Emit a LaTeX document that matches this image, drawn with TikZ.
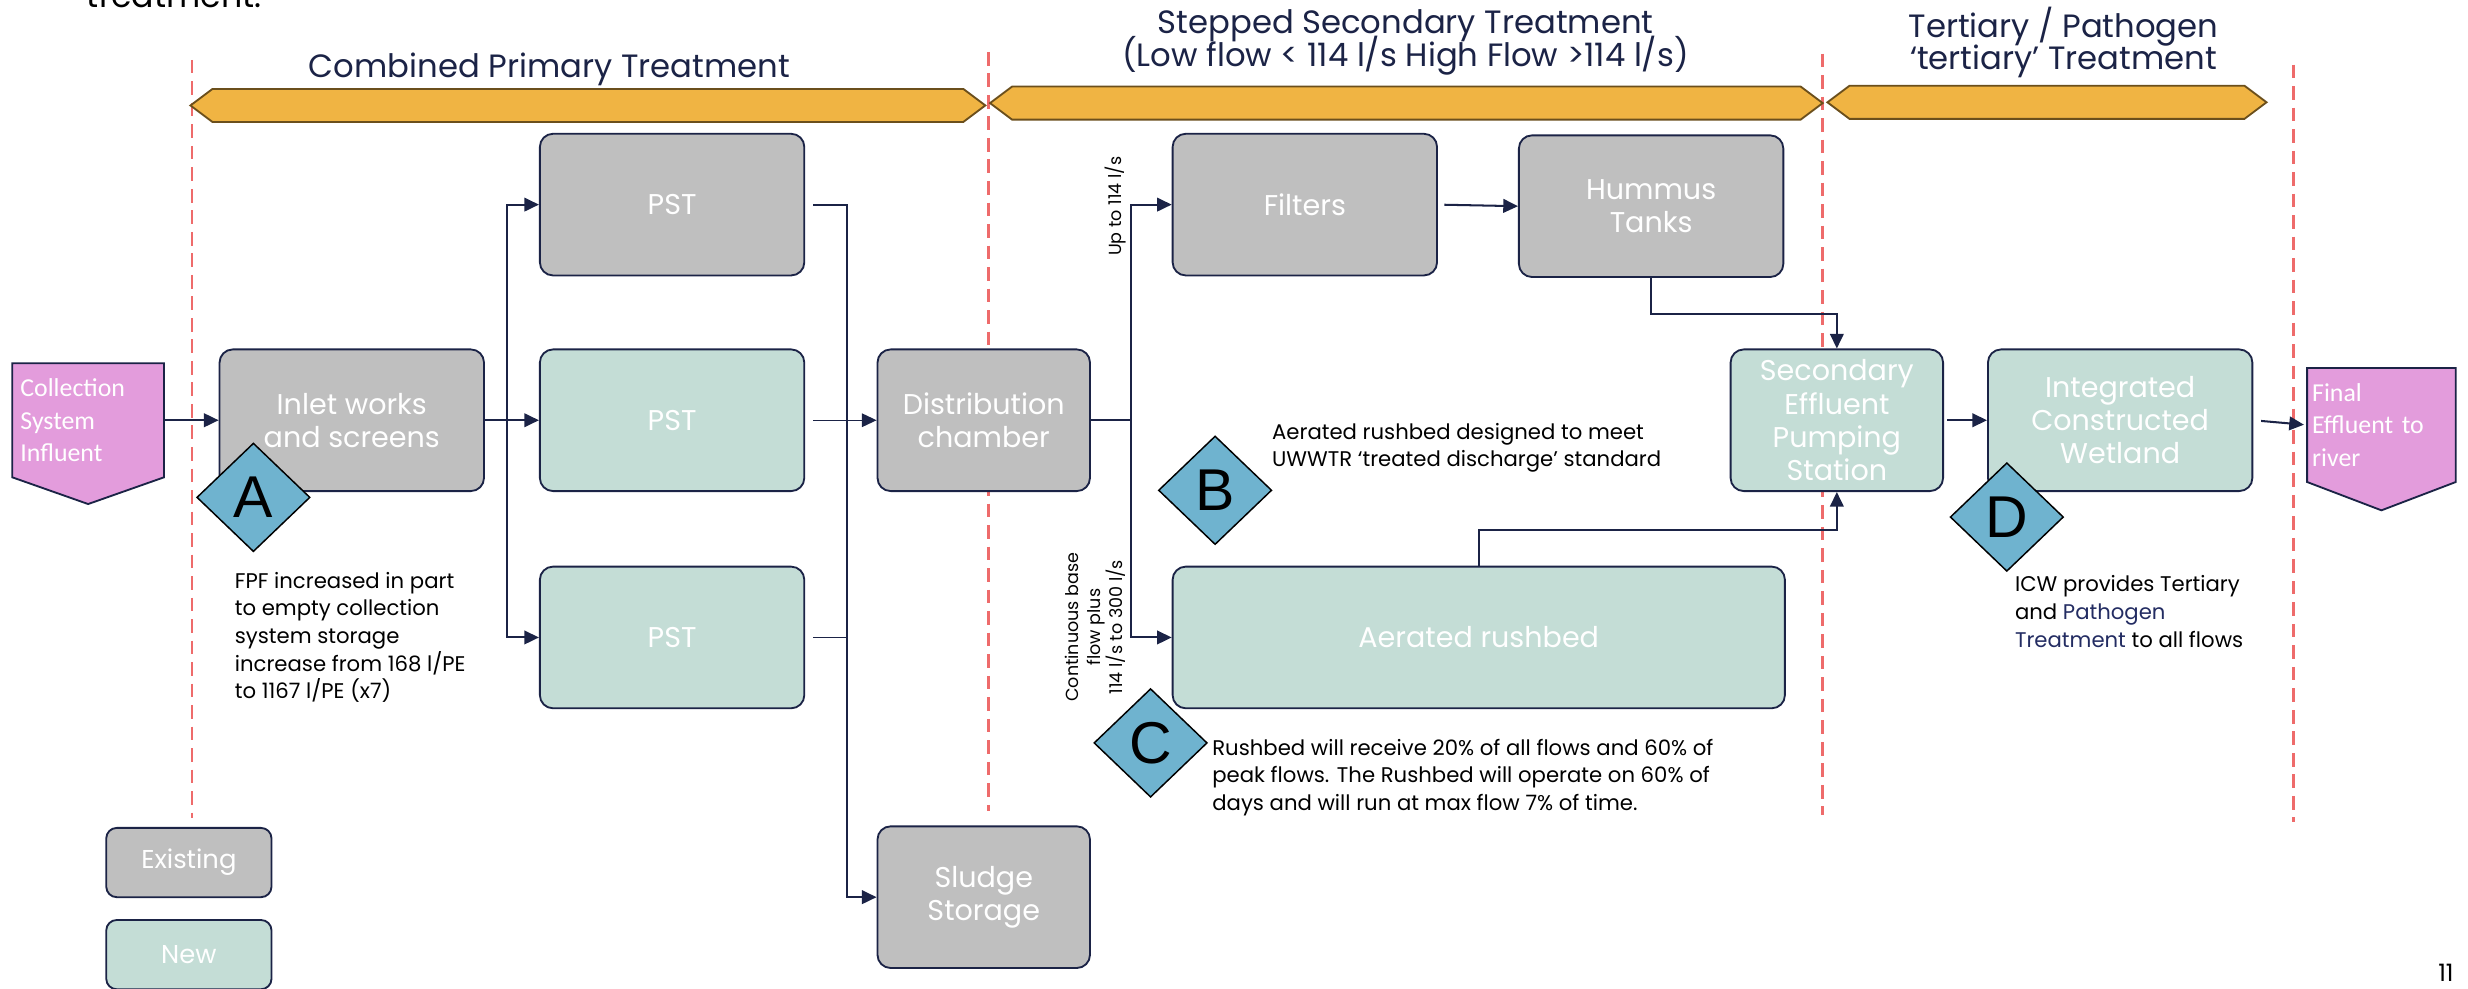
\documentclass[tikz,border=0pt]{standalone}
\usepackage{fontspec}
\setmainfont{Poppins}
\newfontfamily\calibfont{Carlito}
\newfontfamily\arialfont{Liberation Sans}
\usetikzlibrary{shapes.geometric,arrows.meta}
\pgfdeclarelayer{bg}
\pgfsetlayers{bg,main}
\definecolor{navy}{HTML}{1B2346}
\definecolor{pathblue}{HTML}{232C62}
\definecolor{oldgrey}{HTML}{BFBFBF}
\definecolor{newgreen}{HTML}{C4DDD6}
\definecolor{pinkfill}{HTML}{E39CDC}
\definecolor{markblue}{HTML}{6FB3CF}
\definecolor{bandfill}{HTML}{F0B443}
\definecolor{bandline}{HTML}{6B4F1C}
\definecolor{cutline}{HTML}{EE6B6B}
\tikzset{
    stage/.style={rectangle, rounded corners=2.5mm, draw=navy, line width=1pt, text=white,
        align=center, inner sep=0mm, font=\fontsize{15.5}{18}\selectfont},
    oldunit/.style={stage, fill=oldgrey},
    newunit/.style={stage, fill=newgreen},
    wbox/.style={minimum width=50.4mm, minimum height=27mm},
    nbox/.style={minimum width=40.5mm, minimum height=27mm},
    keybox/.style={minimum width=31.5mm, minimum height=13.2mm, rounded corners=2mm,
        font=\fontsize{14}{16}\selectfont},
    endtext/.style={rectangle, inner ysep=0mm, align=left, text=white,
        font=\calibfont\fontsize{14}{17.5}\selectfont},
    endbox/.style={fill=pinkfill, draw=navy, line width=1pt},
    tag/.style={diamond, draw=black, line width=0.8pt, fill=markblue, inner sep=0mm,
        minimum width=21.6mm, minimum height=20.7mm, font=\arialfont\fontsize{32}{32}\selectfont},
    note/.style={inner sep=0mm, align=left, font=\fontsize{11.5}{15}\selectfont},
    side/.style={inner sep=0mm, align=center, rotate=90, font=\fontsize{9.5}{12}\selectfont},
    head/.style={inner sep=0mm, align=center, text=navy,
        font=\fontsize{17.5}{17.5}\selectfont\setlength{\lineskiplimit}{-20pt}},
    flow/.style={draw=navy, line width=1.1pt, -{Triangle[length=2.8mm, width=2.6mm]}},
    pipe/.style={draw=navy, line width=1.1pt},
    cut/.style={draw=cutline, line width=1.4pt, dash pattern=on 2.6mm off 1.5mm},
    band/.style={fill=bandfill, draw=bandline, line width=1pt}
}

\begin{document}
\begin{tikzpicture}[x=0.3mm, y=-0.3mm]
    \useasboundingbox (0,0) rectangle (1568,628);

    % headings
    \node (top) [anchor=base west, inner sep=0mm, font=\fontsize{18}{18}\selectfont] at (55, 5) {treatment.};
    \node (h1) [head] at (349, 44) {Combined Primary Treatment};
    \node (h2) [head] at (893, 27) {Stepped Secondary Treatment\\(Low flow < 114 l/s High Flow >114 l/s)};
    \node (h3) [head] at (1311, 27) {Tertiary / Pathogen\\‘tertiary’ Treatment};

    % process units
    \node (csi) [endtext, text width=25.8mm, inner xsep=1.5mm, minimum height=21.6mm] at (56, 267) {Collection\\System\\Influent};
    \node (inlet) [oldunit, wbox] at (223.5, 267) {Inlet works\\and screens};
    \node (pst1) [oldunit, wbox] at (427, 130) {PST};
    \node (pst2) [newunit, wbox] at (427, 267) {PST};
    \node (pst3) [newunit, wbox] at (427, 405) {PST};
    \node (dist) [oldunit, nbox] at (625, 267) {Distribution\\chamber};
    \node (sludge) [oldunit, nbox] at (625, 570) {Sludge\\Storage};
    \node (filt) [oldunit, wbox] at (829, 130) {Filters};
    \node (hum) [oldunit, wbox] at (1049, 131) {Hummus\\Tanks};
    \node (rush) [newunit, minimum width=116.7mm, minimum height=27mm] at (939.5, 405) {Aerated rushbed};
    \node (seps) [newunit, nbox] at (1167, 267) {Secondary\\Effluent\\Pumping\\Station};
    \node (icw) [newunit, wbox] at (1347, 267) {Integrated\\Constructed\\Wetland};
    \node (fe) [endtext, text width=26.4mm, inner xsep=0.9mm, minimum height=21.6mm] at (1513, 270) {Final\\Effluent to\\river};

    % legend
    \node (kold) [oldunit, keybox] at (120, 548) {Existing};
    \node (knew) [newunit, keybox] at (120, 606.5) {New};

    % markers
    \node (ma) [tag] at (161, 316) {A};
    \node (mb) [tag] at (772, 311.5) {B};
    \node (mc) [tag] at (731, 472) {C};
    \node (md) [tag] at (1275, 328.5) {D};

    % notes
    \node (na) [note, anchor=west] at (149, 405) {FPF increased in part\\to empty collection\\system storage\\increase from 168 l/PE\\to 1167 l/PE (x7)};
    \node (nb) [note, anchor=west] at (808, 284.5) {Aerated rushbed designed to meet\\UWWTR ‘treated discharge’ standard};
    \node (nc) [note, anchor=west] at (770, 494) {Rushbed will receive 20\% of all flows and 60\% of\\peak flows. The Rushbed will operate on 60\% of\\days and will run at max flow 7\% of time.};
    \node (nd) [note, anchor=west] at (1280, 388.5) {ICW provides Tertiary\\and \textcolor{pathblue}{Pathogen}\\\textcolor{pathblue}{Treatment} to all flows};
    \node (q1) [side] at (708.5, 131) {Up to 114 l/s};
    \node (q2) [side] at (696, 398.5) {Continuous base\\flow plus\\114 l/s to 300 l/s};

    \node (pg) [inner sep=0mm, font=\fontsize{13}{13}\selectfont] at (1554, 618) {11};

    \coordinate (s1) at (322, 267);
    \coordinate (jx) at (538, 570);
    \coordinate (s2) at (718.5, 267);
    \coordinate (t1) at (1167, 199.5);
    \coordinate (t2) at (1167, 336.5);

    \begin{pgfonlayer}{bg}
        \draw[cut] (122, 38) -- (122, 520);
        \draw[cut] (628, 33) -- (628, 515);
        \draw[cut] (1158, 34) -- (1158, 518);
        \draw[cut] (1457, 41) -- (1457, 522);

        \draw[band] (121, 67) -- (135, 56.5) -- (612, 56.5) -- (626, 67) -- (612, 77.5) -- (135, 77.5) -- cycle;
        \draw[band] (629, 65.5) -- (643, 55) -- (1144, 55) -- (1158, 65.5) -- (1144, 76) -- (643, 76) -- cycle;
        \draw[band] (1161, 65) -- (1175, 54.5) -- (1426, 54.5) -- (1440, 65) -- (1426, 75.5) -- (1175, 75.5) -- cycle;

        \draw[endbox] (csi.north west) -- (csi.north east) -- (csi.south east)
            -- ([yshift=-5.1mm]csi.south) -- (csi.south west) -- cycle;
        \draw[endbox] (fe.north west) -- (fe.north east) -- (fe.south east)
            -- ([yshift=-5.4mm]fe.south) -- (fe.south west) -- cycle;

        \draw[flow] (csi.east) -- (inlet.west);
        \draw[flow] (inlet.east) -- (pst2.west);
        \draw[flow] (s1) |- (pst1.west);
        \draw[flow] (s1) |- (pst3.west);

        \draw[flow, shorten <=1.5mm] (pst1.east) -| (jx) -- (sludge.west);
        \draw[flow, shorten <=1.5mm, line width=0.7pt] (pst2.east) -- (dist.west);
        \draw[pipe, shorten <=1.5mm, line width=0.7pt] (pst3.east) -- (pst3.east -| jx);

        \draw[pipe] (dist.east) -- (s2);
        \draw[flow] (s2) |- (filt.west);
        \draw[flow] (s2) |- (rush.west);
        \draw[flow, shorten <=1.2mm] (filt.east) -- (hum.west);
        \draw[flow] (hum.south) |- (t1) -- (seps.north);
        \draw[flow] (rush.north) |- (t2) -- (seps.south);
        \draw[flow, shorten <=0.6mm] (seps.east) -- (icw.west);
        \draw[flow, shorten <=1.5mm, shorten >=0.6mm] (icw.east) -- (fe.west);
    \end{pgfonlayer}
\end{tikzpicture}
\end{document}
